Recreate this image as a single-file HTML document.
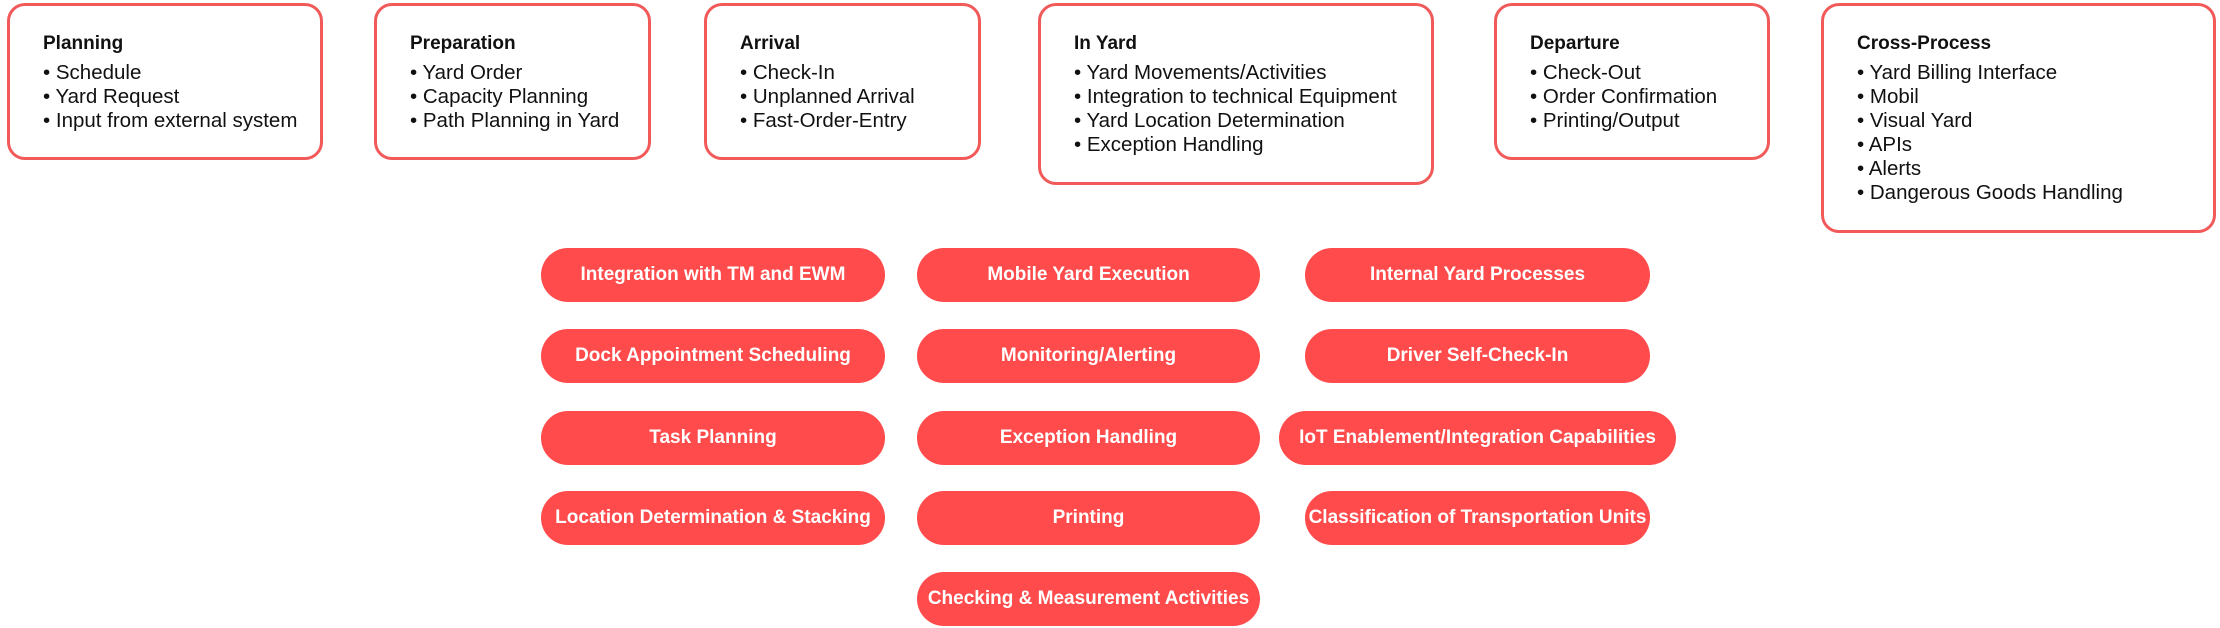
<!DOCTYPE html>
<html><head><meta charset="utf-8"><style>
body{margin:0;width:2220px;height:628px;background:#fff;position:relative;overflow:hidden;font-family:"Liberation Sans",sans-serif;}
.b{position:absolute;box-sizing:border-box;border:3px solid #f25a5a;border-radius:18px;padding:26px 0 0 33px;color:#111;}
.b h3{margin:0 0 5px;font-size:19px;font-weight:bold;line-height:24px;}
.b div{font-size:20.5px;line-height:24px;white-space:nowrap;}
.p{position:absolute;height:54px;border-radius:27px;background:#ff4b4b;color:#fff;font-weight:bold;font-size:19px;display:flex;align-items:center;justify-content:center;white-space:nowrap;}
</style></head><body>
<div class="b" style="left:7px;top:3px;width:316px;height:157px"><h3>Planning</h3><div>• Schedule</div><div>• Yard Request</div><div>• Input from external system</div></div>
<div class="b" style="left:374px;top:3px;width:277px;height:157px"><h3>Preparation</h3><div>• Yard Order</div><div>• Capacity Planning</div><div>• Path Planning in Yard</div></div>
<div class="b" style="left:704px;top:3px;width:277px;height:157px"><h3>Arrival</h3><div>• Check-In</div><div>• Unplanned Arrival</div><div>• Fast-Order-Entry</div></div>
<div class="b" style="left:1038px;top:3px;width:396px;height:182px"><h3>In Yard</h3><div>• Yard Movements/Activities</div><div>• Integration to technical Equipment</div><div>• Yard Location Determination</div><div>• Exception Handling</div></div>
<div class="b" style="left:1494px;top:3px;width:276px;height:157px"><h3>Departure</h3><div>• Check-Out</div><div>• Order Confirmation</div><div>• Printing/Output</div></div>
<div class="b" style="left:1821px;top:3px;width:395px;height:230px"><h3>Cross-Process</h3><div>• Yard Billing Interface</div><div>• Mobil</div><div>• Visual Yard</div><div>• APIs</div><div>• Alerts</div><div>• Dangerous Goods Handling</div></div>

<div class="p" style="left:541px;top:248px;width:344px">Integration with TM and EWM</div>
<div class="p" style="left:541px;top:329px;width:344px">Dock Appointment Scheduling</div>
<div class="p" style="left:541px;top:411px;width:344px">Task Planning</div>
<div class="p" style="left:541px;top:491px;width:344px">Location Determination &amp; Stacking</div>
<div class="p" style="left:917px;top:248px;width:343px">Mobile Yard Execution</div>
<div class="p" style="left:917px;top:329px;width:343px">Monitoring/Alerting</div>
<div class="p" style="left:917px;top:411px;width:343px">Exception Handling</div>
<div class="p" style="left:917px;top:491px;width:343px">Printing</div>
<div class="p" style="left:917px;top:572px;width:343px">Checking &amp; Measurement Activities</div>
<div class="p" style="left:1305px;top:248px;width:345px">Internal Yard Processes</div>
<div class="p" style="left:1305px;top:329px;width:345px">Driver Self-Check-In</div>
<div class="p" style="left:1279px;top:411px;width:397px">IoT Enablement/Integration Capabilities</div>
<div class="p" style="left:1305px;top:491px;width:345px">Classification of Transportation Units</div>
</body></html>
